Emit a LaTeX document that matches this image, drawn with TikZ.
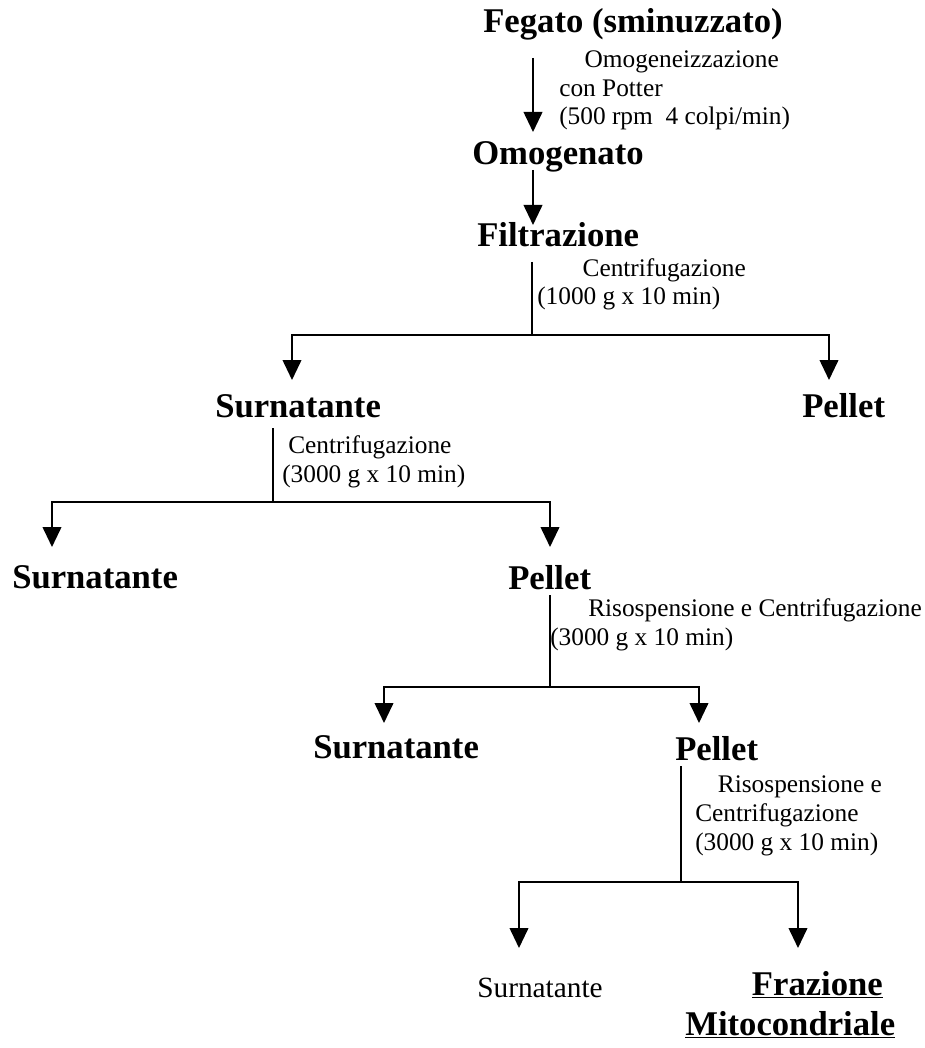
\documentclass[tikz,border=0pt]{standalone}
\usepackage{fontspec}
\setmainfont{Liberation Serif}
\usetikzlibrary{arrows.meta}
\tikzset{
  stage/.style={anchor=base west, inner sep=0pt, font=\bfseries\fontsize{26}{30}\selectfont},
  note/.style={anchor=base west, inner sep=0pt, align=left, font=\fontsize{19}{21.5}\selectfont},
  link/.style={line width=1.4pt},
  arr/.style={link, -{Triangle[width=14pt,length=15pt]}}
}

\begin{document}
\begin{tikzpicture}[x=0.75pt,y=-0.75pt]
\useasboundingbox (0,0) rectangle (924,1048);
\node[stage] (feg) at (483,33) {Fegato (sminuzzato)};
\node[stage] (omog) at (472,165) {Omogenato};
\node[stage] (filt) at (477,247) {Filtrazione};
\node[stage] (surnA) at (215,417) {Surnatante};
\node[stage] (pelA) at (802,417) {Pellet};
\node[stage] (surnB) at (12,588) {Surnatante};
\node[stage] (pelB) at (508,589) {Pellet};
\node[stage] (surnC) at (313,758) {Surnatante};
\node[stage] (pelC) at (675,760) {Pellet};
\node[anchor=base west, inner sep=0pt, font=\fontsize{22}{24}\selectfont] (surnD) at (477,997) {Surnatante};
\node[stage, align=left] (mito) at (685,1035) {\hspace*{50pt}\underline{Frazione}\\\underline{Mitocondriale}};

\node[note] (n1) at (559,125) {\hspace*{19pt}Omogeneizzazione\\con Potter\\(500 rpm\ \ 4 colpi/min)};
\node[note] (n2) at (537,305) {\hspace*{34pt}Centrifugazione\\(1000 g x 10 min)};
\node[note] (n3) at (282,482) {\hspace*{4.5pt}Centrifugazione\\(3000 g x 10 min)};
\node[note] (n4) at (550,645) {\hspace*{28.5pt}Risospensione e Centrifugazione\\(3000 g x 10 min)};
\node[note] (n5) at (695,850) {\hspace*{17pt}Risospensione e\\Centrifugazione\\(3000 g x 10 min)};

\draw[arr] ([shift={(50,25)}]feg.base west) -- ([shift={(61,-33)}]omog.base west);
\draw[arr] ([shift={(61,5)}]omog.base west) -- ([shift={(56,-22)}]filt.base west);

\draw[link] ([shift={(55,15)}]filt.base west) -- ++(0,73) coordinate (j1);
\draw[arr] (j1) -| ([shift={(77,-37)}]surnA.base west);
\draw[arr] (j1) -| ([shift={(27,-37)}]pelA.base west);

\draw[link] ([shift={(58,11)}]surnA.base west) -- ++(0,74) coordinate (j2);
\draw[arr] (j2) -| ([shift={(40,-41)}]surnB.base west);
\draw[arr] (j2) -| ([shift={(42,-42)}]pelB.base west);

\draw[link] ([shift={(42,6)}]pelB.base west) -- ++(0,92) coordinate (j3);
\draw[arr] (j3) -| ([shift={(71,-35)}]surnC.base west);
\draw[arr] (j3) -| ([shift={(24,-37)}]pelC.base west);

\draw[link] ([shift={(6,6)}]pelC.base west) -- ++(0,116) coordinate (j4);
\draw[arr] (j4) -| ([shift={(42,-49)}]surnD.base west);
\draw[arr] (j4) -| ([shift={(113,-87)}]mito.base west);
\end{tikzpicture}
\end{document}
